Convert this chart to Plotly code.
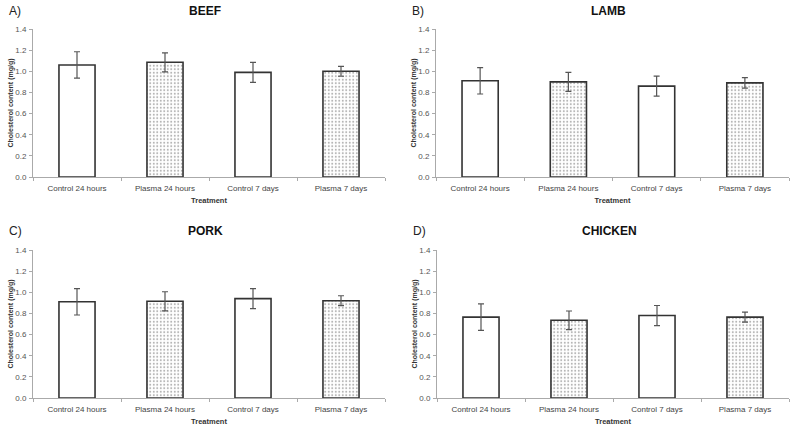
import plotly.graph_objects as go

categories = ["Control 24 hours", "Plasma 24 hours", "Control 7 days", "Plasma 7 days"]
panels = ["BEEF", "LAMB", "PORK", "CHICKEN"]
panel_letters = ["A)", "B)", "C)", "D)"]

beef = [1.06, 1.085, 0.99, 1.0]
beef_err = [0.125, 0.09, 0.095, 0.047]
lamb = [0.91, 0.90, 0.86, 0.89]
lamb_err = [0.125, 0.09, 0.095, 0.05]
pork = [0.91, 0.915, 0.94, 0.92]
pork_err = [0.125, 0.09, 0.095, 0.047]
chicken = [0.765, 0.735, 0.78, 0.765]
chicken_err = [0.125, 0.088, 0.095, 0.048]

y_ticks = [0.0, 0.2, 0.4, 0.6, 0.8, 1.0, 1.2, 1.4]
y_tick_labels = ["0.0", "0.2", "0.4", "0.6", "0.8", "1.0", "1.2", "1.4"]

values = [beef, lamb, pork, chicken]
errors = [beef_err, lamb_err, pork_err, chicken_err]

W, H = 795, 429
# plot areas in page pixels: (left, right, top, bottom)
boxes = [(33, 385, 29, 177), (436, 789, 29, 177), (33, 385, 250, 398), (437, 789, 250, 398)]
title_y = [11, 11, 231, 231]

FONT = "Liberation Sans"
fig = go.Figure()
for i in range(4):
    xa = "x" if i == 0 else f"x{i+1}"
    ya = "y" if i == 0 else f"y{i+1}"
    fig.add_trace(go.Bar(
        x=categories, y=values[i], xaxis=xa, yaxis=ya, width=0.41,
        marker=dict(color="white", line=dict(color="#333333", width=1.6),
                    pattern=dict(shape=["", ".", "", "."], fgcolor="#666666", bgcolor="white",
                                 size=3.5, solidity=0.25)),
        error_y=dict(type="data", array=errors[i], visible=True, color="#555555", thickness=1.2, width=3),
        showlegend=False, hoverinfo="skip"))
    l, r, t, b = boxes[i]
    xd = [l / W, r / W]
    yd = [1 - b / H, 1 - t / H]
    xkey = "xaxis" if i == 0 else f"xaxis{i+1}"
    ykey = "yaxis" if i == 0 else f"yaxis{i+1}"
    fig.update_layout(**{
        xkey: dict(domain=xd, anchor=ya, showline=True, linecolor="#aaaaaa", linewidth=1,
                   ticks="outside", tickson="boundaries", ticklen=3, tickcolor="#aaaaaa",
                   tickfont=dict(family=FONT, size=8, color="#444444"), showgrid=False,
                   range=[-0.5, 3.5], automargin=False, ticklabelstandoff=3,
                   title=dict(text="<b>Treatment</b>", font=dict(family=FONT, size=7.5, color="#333333"), standoff=6)),
        ykey: dict(domain=yd, anchor=xa, range=[0, 1.4], tickvals=y_ticks, ticktext=y_tick_labels,
                   showline=True, linecolor="#aaaaaa", linewidth=1, ticks="outside", ticklen=3,
                   tickcolor="#aaaaaa", showgrid=False, zeroline=False, automargin=False,
                   tickfont=dict(family=FONT, size=8, color="#555555"), ticklabelstandoff=1,
                   title=dict(text="<b>Cholesterol content (mg/g)</b>", font=dict(family=FONT, size=7, color="#333333"), standoff=0)),
    })
    fig.add_annotation(x=(l + r) / 2 / W - 0.005, y=1 - title_y[i] / H, xref="paper", yref="paper",
                       text=f"<b>{panels[i]}</b>", showarrow=False,
                       font=dict(family=FONT, size=12, color="#111111"), xanchor="center", yanchor="middle")
    fig.add_annotation(x=(l - 26) / W, y=1 - title_y[i] / H, xref="paper", yref="paper",
                       text=panel_letters[i], showarrow=False,
                       font=dict(family=FONT, size=12, color="#222222"), xanchor="left", yanchor="middle")

fig.update_layout(width=W, height=H, margin=dict(l=0, r=0, t=0, b=0),
                  plot_bgcolor="white", paper_bgcolor="white", bargap=0.59)
fig.write_html("out.html", config={"displayModeBar": False},
               post_script="document.body.style.margin='0';")
